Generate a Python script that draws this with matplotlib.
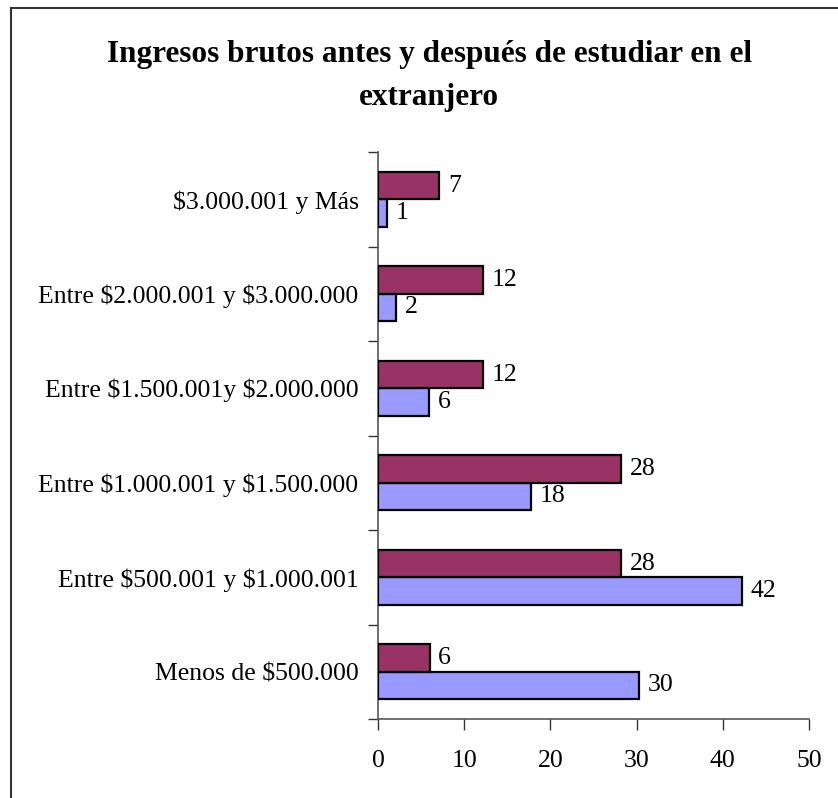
import matplotlib
matplotlib.use("Agg")
import matplotlib.pyplot as plt
from matplotlib.lines import Line2D
import numpy as np

categories = ["Menos de $500.000", "Entre $500.001 y $1.000.001",
              "Entre $1.000.001 y $1.500.000", "Entre $1.500.001y $2.000.000",
              "Entre $2.000.001 y $3.000.000", "$3.000.001 y Más"]
antes = [30.3, 42.2, 17.8, 5.9, 2.1, 1.0]      # blue (lower bar)
despues = [6.0, 28.2, 28.2, 12.2, 12.2, 7.1]   # maroon (upper bar)
xticks = [0, 10, 20, 30, 40, 50]
title = "Ingresos brutos antes y después de estudiar en el\nextranjero"

plt.rcParams['font.family'] = ['Liberation Serif', 'DejaVu Serif']

W, H = 838, 798
fig = plt.figure(figsize=(W/100, H/100), dpi=100)
ax = fig.add_axes([378/W, 1-719/H, (809-378)/W, (719-152)/H])

y = np.arange(len(categories))
h = 0.291
blue = "#9999FF"
maroon = "#993366"
ax.barh(y - h/2, antes, height=h, color=blue, edgecolor="black", linewidth=1.6, zorder=3)
ax.barh(y + h/2, despues, height=h, color=maroon, edgecolor="black", linewidth=1.6, zorder=3)

FS = 18.5
for yi, v in zip(y, antes):
    ax.text(v + 1.0, yi - h/2, f"{v:.0f}", va="center", ha="left", fontsize=FS)
for yi, v in zip(y, despues):
    ax.text(v + 1.0, yi + h/2, f"{v:.0f}", va="center", ha="left", fontsize=FS)

ax.set_xlim(0, 50)
ax.set_ylim(-0.5, len(categories) - 0.5)
ax.set_xticks(xticks)
ax.set_xticklabels([str(t) for t in xticks], fontsize=FS)
ax.set_yticks(y)
ax.set_yticklabels(categories, fontsize=FS, parse_math=False)
ax.set_yticks(np.arange(-0.5, len(categories)), minor=True)
ax.tick_params(axis="y", which="major", length=0, pad=14)
ax.tick_params(axis="y", which="minor", length=7, width=1, color="#333333", direction="out")
ax.tick_params(axis="x", length=8, width=1, color="#333333", direction="out", pad=14)
for s in ["top", "right"]:
    ax.spines[s].set_visible(False)
for s in ["left", "bottom"]:
    ax.spines[s].set_color("#555555")
    ax.spines[s].set_linewidth(1.2)

fig.text(429/W, 1-76/H, title, ha="center", va="center", fontsize=22.5,
         fontweight="bold", linespacing=1.6)

# figure border (top and left visible; continues past image edges)
fig.add_artist(Line2D([11/W, 1.0], [1-7.5/H, 1-7.5/H], transform=fig.transFigure,
                      color="#333333", linewidth=1.5))
fig.add_artist(Line2D([11/W, 11/W], [0.0, 1-7.5/H], transform=fig.transFigure,
                      color="#333333", linewidth=1.5))

fig.savefig("out.png", dpi=100)
